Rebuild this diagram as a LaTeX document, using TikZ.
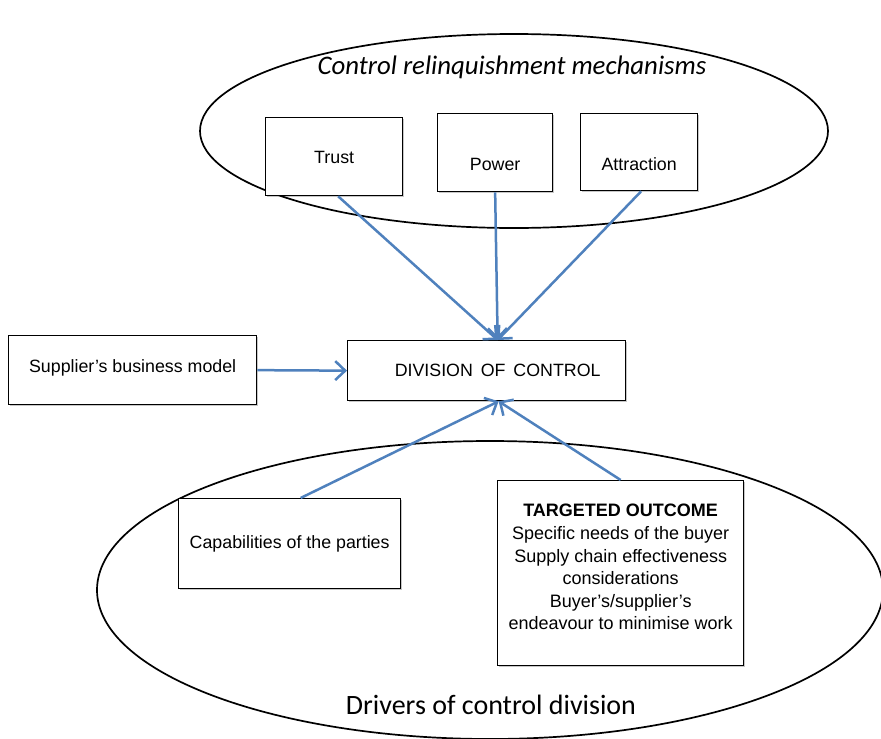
\documentclass[tikz,border=0pt]{standalone}
\usepackage{fontspec}
\setmainfont{Liberation Sans}
\newfontfamily\calibri{Carlito}
\usetikzlibrary{arrows.meta,shadows}
\definecolor{linkblue}{RGB}{79,129,189}

\begin{document}
\begin{tikzpicture}[x=1pt,y=-1pt,
  box/.style={draw=black, line width=1.3pt, fill=white, inner sep=0pt,
    anchor=north west,
    drop shadow={shadow xshift=1.5pt, shadow yshift=-1.8pt, opacity=0.22, fill=black}},
  boxtext/.style={inner sep=0pt, align=center, font=\fontsize{17.8}{22.6}\selectfont},
  link/.style={draw=linkblue, line width=2.5pt,
    -{Straight Barb[length=10pt,width=19pt,line width=2.5pt]}},
  ring/.style={draw=black, line width=1.7pt},
  caption/.style={inner sep=0pt, font=\calibri\fontsize{28}{32}\selectfont}]

% page area
\clip (0,0) rectangle (881,739);
\fill[white] (0,0) rectangle (881,739);

% the two grouping ellipses
\draw[ring] (514,131) ellipse [x radius=314, y radius=97];
\draw[ring] (490,590) ellipse [x radius=393, y radius=149];

\node[caption, font=\calibri\itshape\fontsize{26.8}{30}\selectfont] (mechtitle) at (512,67) {Control relinquishment mechanisms};
\node[caption] (drvtitle) at (491,705) {Drivers of control division};

% mechanism boxes
\node[box, minimum width=137, minimum height=78] (trust) at (265,117) {};
\node[boxtext] (trustlbl) at ([yshift=-1pt]trust.center) {Trust};
\node[box, minimum width=115, minimum height=78] (power) at (437,113) {};
\node[boxtext] (powerlbl) at ([yshift=-12pt]power.center) {Power};
\node[box, minimum width=117, minimum height=77] (attr) at (580,113) {};
\node[boxtext] (attrlbl) at ([yshift=-12pt]attr.center) {Attraction};

% central box and the supplier box
\node[box, minimum width=278, minimum height=60] (div) at (347,340) {};
\node[boxtext] (divlbl) at ([xshift=11pt]div.center) {DIVISION\, OF\, CONTROL};
\node[box, minimum width=248, minimum height=69] (supp) at (8,335) {};
\node[boxtext] (supplbl) at ([yshift=2pt]supp.center) {Supplier’s business model};

% driver boxes
\node[box, minimum width=222, minimum height=90] (cap) at (178,498) {};
\node[boxtext] (caplbl) at (cap.center) {Capabilities of the parties};
\node[box, minimum width=246, minimum height=185] (target) at (497,480) {};
\node[boxtext, font=\fontsize{18}{22.6}\selectfont] (targetlbl) at ([yshift=6pt]target.center)
  {\textbf{TARGETED OUTCOME}\\Specific needs of the buyer\\Supply chain effectiveness\\considerations\\Buyer’s/supplier’s\\endeavour to minimise work};

% arrow meeting points on the central box
\coordinate (divtop) at ([xshift=11pt]div.north);
\coordinate (divbot) at ([xshift=12pt]div.south);

% connectors
\draw[link] ([xshift=4pt]trust.south) -- (divtop);
\draw[link] (power.south) -- (divtop);
\draw[link] ([xshift=2pt]attr.south) -- (divtop);
\draw[link] (supp.east) -- (div.west);
\draw[link] ([xshift=11pt]cap.north) -- (divbot);
\draw[link] (target.north) -- (divbot);
\end{tikzpicture}
\end{document}
